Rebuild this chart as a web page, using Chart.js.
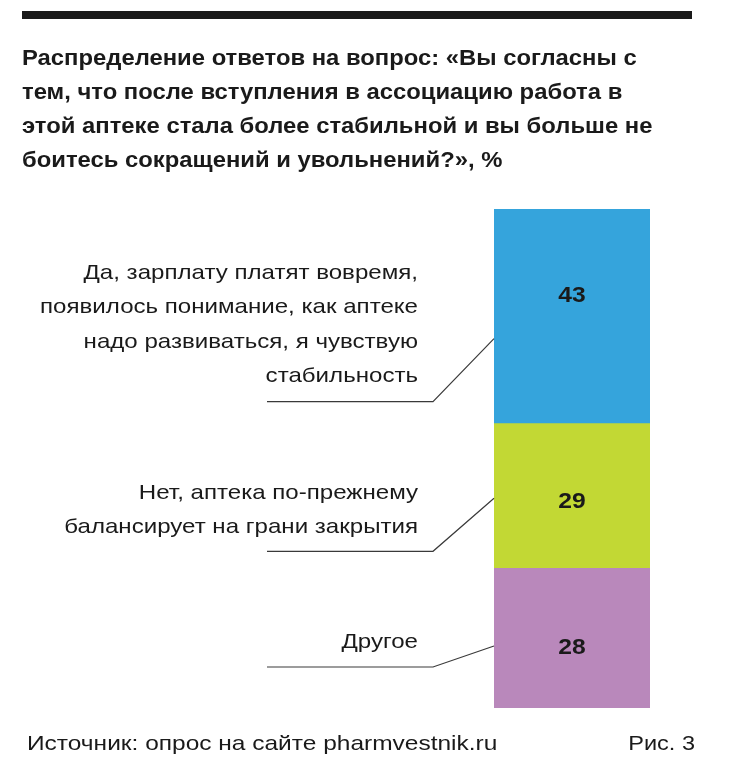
<!DOCTYPE html>
<html>
<head>
<meta charset="utf-8">
<script src="https://cdn.jsdelivr.net/npm/chart.js@4.4.0/dist/chart.umd.min.js"></script>
<style>
  html, body { margin: 0; padding: 0; background: #fff; }
  #wrap { width: 729px; height: 765px; position: relative; }
</style>
</head>
<body>
<div id="wrap"><canvas id="chart"></canvas></div>
<script>
// data
const categories = ['Да, зарплату платят вовремя, появилось понимание, как аптеке надо развиваться, я чувствую стабильность', 'Нет, аптека по-прежнему балансирует на грани закрытия', 'Другое'];
const values = [43, 29, 28];
const colors = ['#35a4dc', '#c2d834', '#b988bb'];
const labelLines = [
  ['Да, зарплату платят вовремя,', 'появилось понимание, как аптеке', 'надо развиваться, я чувствую', 'стабильность'],
  ['Нет, аптека по-прежнему', 'балансирует на грани закрытия'],
  ['Другое']
];
const titleLines = [
  'Распределение ответов на вопрос: «Вы согласны с',
  'тем, что после вступления в ассоциацию работа в',
  'этой аптеке стала более стабильной и вы больше не',
  'боитесь сокращений и увольнений?», %'
];
const sourceText = 'Источник: опрос на сайте pharmvestnik.ru';
const figText = 'Рис. 3';

const FONT = '"Liberation Sans", Arial, sans-serif';
const TEXT = '#1a1a1a';

// stacked bottom -> top: Другое, Нет, Да
const order = [2, 1, 0];
const datasets = order.map(i => ({
  label: categories[i],
  data: [values[i]],
  backgroundColor: colors[i],
  borderWidth: 0,
  barPercentage: 1,
  categoryPercentage: 1
}));

// leader line / number layout per answer (pixels up from segment bottom)
const leaders = [
  { lineY: 22, tipY: 85, numY: 128, firstLine: 273 },
  { lineY: 17, tipY: 70, numY: 66, firstLine: 493 },
  { lineY: 41, tipY: 62, numY: 60, firstLine: 642 }
];

// the original face is wider than Liberation Sans, so stretch it a bit
function wideText(ctx, text, x, y, align, sx) {
  ctx.save();
  ctx.translate(x, y);
  ctx.scale(sx, 1);
  ctx.textAlign = align;
  ctx.fillText(text, 0, 0);
  ctx.restore();
}

const decor = {
  id: 'decor',
  afterDraw(chart) {
    const ctx = chart.ctx;
    ctx.save();
    ctx.textBaseline = 'middle';

    // top rule
    ctx.fillStyle = '#1a1a1a';
    ctx.fillRect(22, 11, 670, 8);

    // title
    ctx.fillStyle = TEXT;
    ctx.font = 'bold 22px ' + FONT;
    titleLines.forEach((t, i) => wideText(ctx, t, 22, 59 + i * 34, 'left', 1.083));

    // segment labels + leaders
    order.forEach((idx, di) => {
      const bar = chart.getDatasetMeta(di).data[0];
      const segBot = bar.base;
      const left = bar.x - bar.width / 2;
      const L = leaders[idx];

      ctx.fillStyle = TEXT;
      ctx.font = 'bold 22px ' + FONT;
      wideText(ctx, String(values[idx]), bar.x, segBot - L.numY, 'center', 1.12);

      const ly = segBot - L.lineY;
      const ty = segBot - L.tipY;
      ctx.strokeStyle = '#3a3a3a';
      ctx.lineWidth = 1.2;
      ctx.beginPath();
      ctx.moveTo(267, ly);
      ctx.lineTo(433, ly);
      ctx.lineTo(left, ty);
      ctx.stroke();

      ctx.font = '21px ' + FONT;
      labelLines[idx].forEach((t, i) => wideText(ctx, t, 418, L.firstLine + i * 34.5, 'right', 1.147));
    });

    // footer
    ctx.font = '21px ' + FONT;
    wideText(ctx, sourceText, 27, 744, 'left', 1.166);
    wideText(ctx, figText, 695, 744, 'right', 1.12);
    ctx.restore();
  }
};

new Chart(document.getElementById('chart'), {
  type: 'bar',
  data: { labels: [''], datasets },
  options: {
    responsive: true,
    maintainAspectRatio: false,
    animation: false,
    layout: { padding: { left: 494, right: 79, top: 209, bottom: 57 } },
    plugins: { legend: { display: false }, tooltip: { enabled: false } },
    scales: {
      x: { stacked: true, display: false },
      y: { stacked: true, display: false, min: 0, max: 100 }
    }
  },
  plugins: [decor]
});
</script>
</body>
</html>
